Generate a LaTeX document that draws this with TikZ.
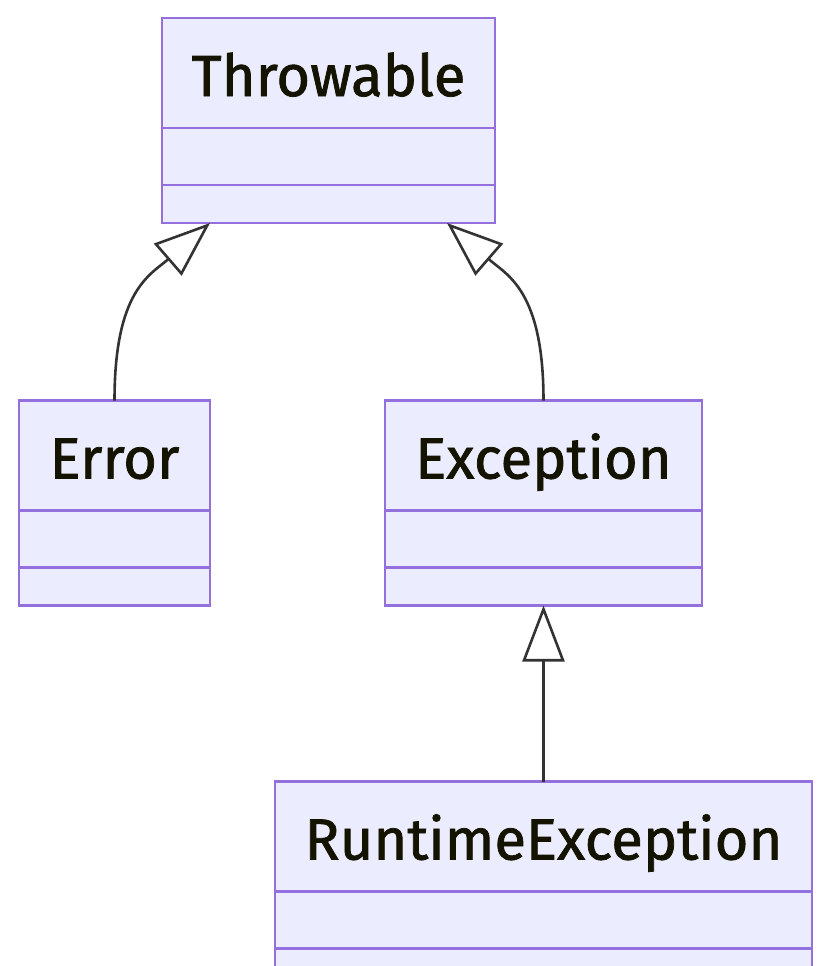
\documentclass[tikz,border=0pt]{standalone}
\usepackage{fontspec}
\setmainfont{Fira Sans}
\newfontfamily\classfont[FakeBold=1.3]{Fira Sans}
\usetikzlibrary{positioning,arrows.meta,calc}
\definecolor{umlfill}{HTML}{ECECFF}
\definecolor{umlborder}{HTML}{9370DB}
\definecolor{umltext}{HTML}{131300}
\definecolor{umlline}{HTML}{333333}
\begin{document}
\begin{tikzpicture}[x=0.5pt,y=-0.5pt,
  box/.style={draw=umlborder,fill=umlfill,line width=1.2pt,inner sep=0pt,outer sep=0pt},
  head/.style={box,minimum height=55pt,text=umltext,text height=23pt,text depth=0pt,
    font=\classfont\fontsize{29pt}{34pt}\selectfont},
  attrs/.style={box,minimum height=28.5pt,below=0pt of #1},
  ops/.style={box,minimum height=19pt,below=0pt of #1},
  inherit/.style={draw=umlline,line width=1.3pt,-{Triangle[open,length=28pt,width=21pt]}}]
  \useasboundingbox (0,0) rectangle (831,966);
  \fill[white] (0,0) rectangle (831,966);
  \node[head,minimum width=166.5pt] (thr) at (328.5,73) {Throwable};
  \node[attrs=thr,minimum width=166.5pt] (thr-a) {};
  \node[ops=thr-a,minimum width=166.5pt] (thr-b) {};
  \node[head,minimum width=95.5pt] (err) at (114.5,455.5) {Error};
  \node[attrs=err,minimum width=95.5pt] (err-a) {};
  \node[ops=err-a,minimum width=95.5pt] (err-b) {};
  \node[head,minimum width=158.5pt] (exc) at (543.5,455.5) {Exception};
  \node[attrs=exc,minimum width=158.5pt] (exc-a) {};
  \node[ops=exc-a,minimum width=158.5pt] (exc-b) {};
  \node[head,minimum width=268.5pt] (rte) at (543.5,836.5) {RuntimeException};
  \node[attrs=rte,minimum width=268.5pt] (rte-a) {};
  \node[ops=rte-a,minimum width=268.5pt] (rte-b) {};
  \draw[inherit] (err.north) .. controls +(0,-110) and +(-60,52) .. ($(thr-b.south)+(-118.5,0)$);
  \draw[inherit] (exc.north) .. controls +(0,-110) and +(60,52) .. ($(thr-b.south)+(118.5,0)$);
  \draw[inherit] (rte.north) -- (exc-b.south);
\end{tikzpicture}
\end{document}
